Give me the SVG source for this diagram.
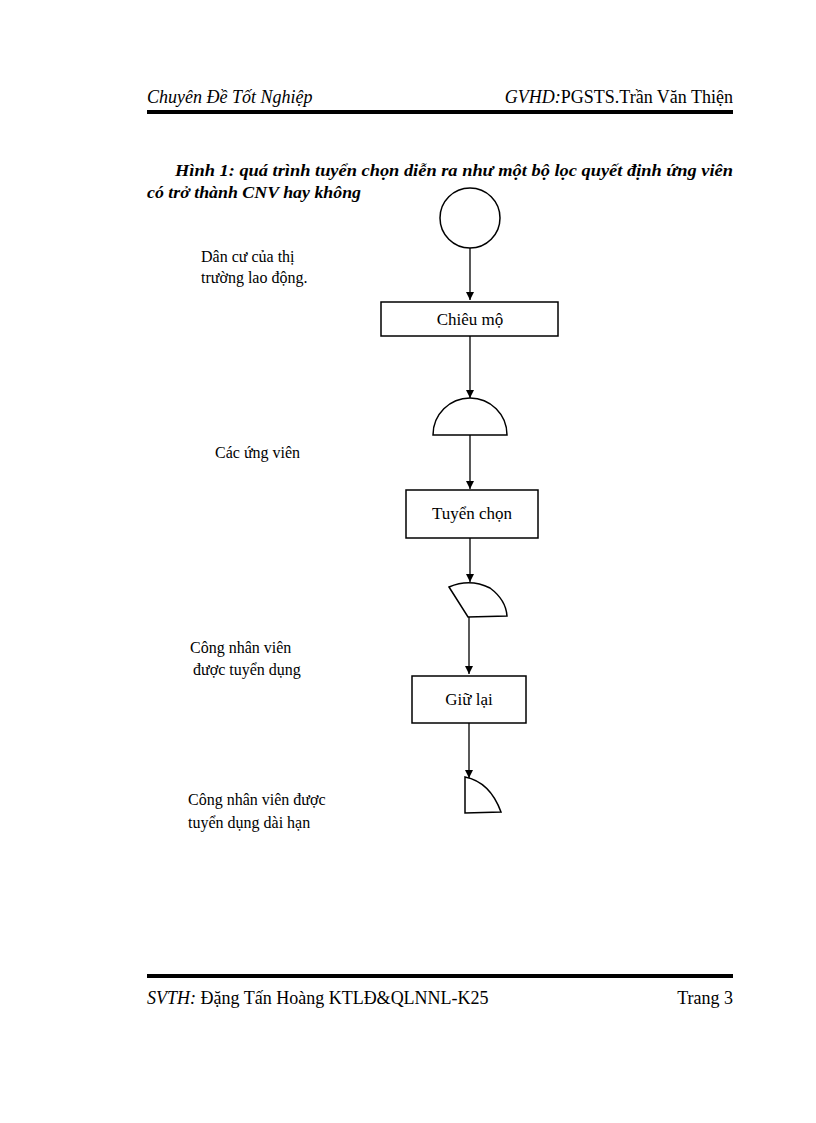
<svg xmlns="http://www.w3.org/2000/svg" width="816" height="1123" viewBox="0 0 816 1123">
<defs>
<style>
.s{fill:#fff;stroke:#000;stroke-width:1.5}
.c{stroke:#000;stroke-width:1.3;fill:none}
.t{font-family:"Liberation Serif",serif;font-size:16px;fill:#000}
.b{font-family:"Liberation Serif",serif;font-size:17px;fill:#000}
.h{font-family:"Liberation Serif",serif;font-size:18px;fill:#000}
.cap{font-family:"Liberation Serif",serif;font-size:16px;font-weight:bold;font-style:italic;fill:#000}
</style>
<marker id="a" markerWidth="10" markerHeight="10" refX="8" refY="5" orient="auto" markerUnits="userSpaceOnUse"><path d="M0,1 L8,5 L0,9 Z" fill="#000"/></marker>
</defs>
<rect width="816" height="1123" fill="#fff"/>
<g id="header">
<text class="h" x="147" y="103" font-style="italic">Chuyên Đề Tốt Nghiệp</text>
<text class="h" x="733" y="103" text-anchor="end"><tspan font-style="italic">GVHD:</tspan>PGSTS.Trần Văn Thiện</text>
<rect x="147" y="110" width="586" height="4" fill="#000"/>
<text class="cap" x="175" y="176" textLength="558" lengthAdjust="spacingAndGlyphs">Hình 1: quá trình tuyển chọn diễn ra như một bộ lọc quyết định ứng viên</text>
<text class="cap" x="147" y="198" textLength="214" lengthAdjust="spacingAndGlyphs">có trở thành CNV hay không</text>
</g>
<g id="start"><circle class="s" cx="470" cy="218" r="30"/></g>
<g id="chieumo"><rect class="s" x="381" y="302" width="177" height="34"/><text class="b" x="470" y="325" text-anchor="middle">Chiêu mộ</text></g>
<g id="ungvien"><path class="s" d="M433,435 A37,37 0 0 1 507,435 Z"/></g>
<g id="tuyenchon"><rect class="s" x="406" y="490" width="132" height="48"/><text class="b" x="472" y="519" text-anchor="middle">Tuyển chọn</text></g>
<g id="cnv"><path class="s" d="M449,587 Q470,578 490,588 Q506,600 507,616 L468,617 Z"/></g>
<g id="giulai"><rect class="s" x="412" y="676" width="114" height="47"/><text class="b" x="469" y="705" text-anchor="middle">Giữ lại</text></g>
<g id="daihan"><path class="s" d="M465,777 Q490,782 501,812 L465,813 Z"/></g>
<g id="connectors">
<line class="c" x1="470" y1="248" x2="470" y2="300" marker-end="url(#a)"/>
<line class="c" x1="470" y1="336" x2="470" y2="398" marker-end="url(#a)"/>
<line class="c" x1="470" y1="435" x2="470" y2="489" marker-end="url(#a)"/>
<line class="c" x1="470" y1="538" x2="470" y2="582" marker-end="url(#a)"/>
<line class="c" x1="469" y1="617" x2="469" y2="674" marker-end="url(#a)"/>
<line class="c" x1="469" y1="723" x2="469" y2="778" marker-end="url(#a)"/>
</g>
<g id="labels">
<text class="t" x="201" y="262">Dân cư của thị</text>
<text class="t" x="201" y="283">trường lao động.</text>
<text class="t" x="215" y="458">Các ứng viên</text>
<text class="t" x="190" y="653">Công nhân viên</text>
<text class="t" x="193" y="675">được tuyển dụng</text>
<text class="t" x="188" y="805">Công nhân viên được</text>
<text class="t" x="188" y="828">tuyển dụng dài hạn</text>
</g>
<g id="footer">
<rect x="147" y="974" width="586" height="4" fill="#000"/>
<text class="h" x="147" y="1004"><tspan font-style="italic">SVTH:</tspan> Đặng Tấn Hoàng KTLĐ&amp;QLNNL-K25</text>
<text class="h" x="733" y="1004" text-anchor="end">Trang 3</text>
</g>
</svg>
